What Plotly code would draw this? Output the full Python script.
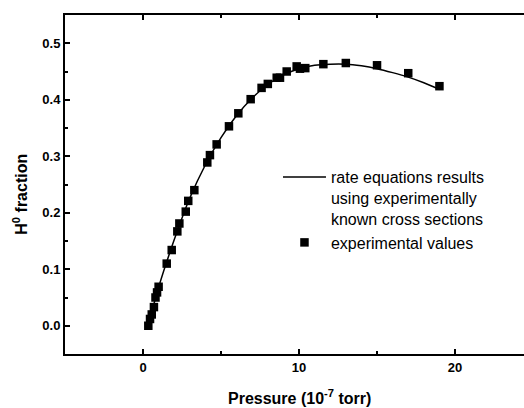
import plotly.graph_objects as go

# Measured H0 fraction versus pressure (units of 1e-7 torr)
pressure_exp = [0.34, 0.45, 0.56, 0.70, 0.80, 0.90, 1.00, 1.52, 1.84, 2.20, 2.33,
                2.74, 2.90, 3.29, 4.12, 4.29, 4.72, 5.51, 6.11, 6.90, 7.60, 8.00,
                8.57, 8.78, 9.21, 9.85, 10.06, 10.40, 11.56, 13.00, 15.00, 17.00, 19.00]
fraction_exp = [0.000, 0.012, 0.020, 0.033, 0.050, 0.059, 0.069, 0.110, 0.134, 0.167, 0.181,
                0.202, 0.221, 0.240, 0.289, 0.302, 0.321, 0.353, 0.376, 0.401, 0.421, 0.428,
                0.439, 0.439, 0.450, 0.459, 0.455, 0.456, 0.463, 0.465, 0.461, 0.447, 0.424]

# Rate-equation model curve
pressure_model = [0.34, 1.0, 2.0, 3.0, 4.0, 5.0, 6.0, 7.0, 8.0, 9.0, 10.0,
                  11.0, 12.0, 13.0, 14.0, 15.0, 16.0, 17.0, 18.0, 19.0]
fraction_model = [0.000, 0.068, 0.152, 0.226, 0.285, 0.333, 0.372, 0.403, 0.427, 0.444, 0.455,
                  0.461, 0.463, 0.463, 0.460, 0.455, 0.448, 0.440, 0.430, 0.418]

x_ticks = [0, 10, 20]
y_ticks = [0.0, 0.1, 0.2, 0.3, 0.4, 0.5]

FONT = "Liberation Sans, Arial, sans-serif"

fig = go.Figure()
fig.add_trace(go.Scatter(
    x=pressure_model, y=fraction_model, mode="lines",
    line=dict(color="black", width=1.5, shape="spline"),
    name="rate equations results<br>using experimentally<br>known cross sections",
))
fig.add_trace(go.Scatter(
    x=pressure_exp, y=fraction_exp, mode="markers",
    marker=dict(symbol="square", size=8.5, color="black"),
    name="experimental values",
))

axis_common = dict(
    showline=True, linecolor="black", linewidth=2,
    ticks="inside", ticklen=5, tickwidth=2, tickcolor="black",
    showgrid=False, zeroline=False,
    tickfont=dict(family=FONT, size=13, color="black", weight="bold"),
)

fig.update_xaxes(
    range=[-5, 24.42], tickvals=x_ticks, ticktext=[str(v) for v in x_ticks],
    mirror="ticks",
    minor=dict(ticks="inside", ticklen=3, tickwidth=2, tickcolor="black", dtick=5, tick0=0),
    **axis_common,
)
fig.update_yaxes(
    range=[-0.05, 0.55], tickvals=y_ticks, ticktext=[f"{v:.1f}" for v in y_ticks],
    minor=dict(ticks="inside", ticklen=3, tickwidth=2, tickcolor="black", dtick=0.05, tick0=0),
    **axis_common,
)

fig.add_annotation(
    text="Pressure (10<sup>-7</sup> torr)", x=10, xref="x", y=-0.127, yref="paper",
    showarrow=False, yanchor="middle", xanchor="center",
    font=dict(family=FONT, size=16, color="black", weight="bold"),
)
fig.add_annotation(
    text="H<sup>0</sup> fraction", x=-0.098, xref="paper", y=0.47, yref="paper",
    showarrow=False, textangle=-90, xanchor="center", yanchor="middle",
    font=dict(family=FONT, size=16, color="black", weight="bold"),
)

fig.update_layout(
    width=524, height=408,
    margin=dict(l=65, r=0, t=15, b=54),
    paper_bgcolor="white", plot_bgcolor="white",
    showlegend=True,
    legend=dict(
        x=0.464, y=0.572, xanchor="left", yanchor="top",
        bgcolor="rgba(0,0,0,0)", valign="top",
        font=dict(family=FONT, size=16, color="black"),
        itemwidth=43, tracegroupgap=0,
    ),
)

fig.write_html("out.html")
